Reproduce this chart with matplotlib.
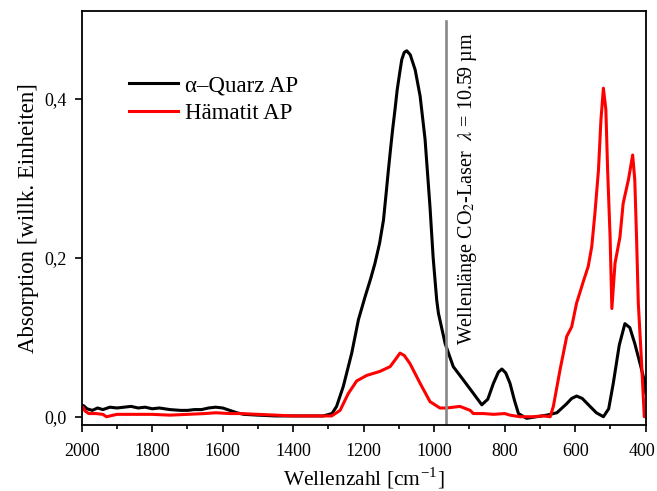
import matplotlib.pyplot as plt
import matplotlib.transforms as mtransforms
from matplotlib.ticker import MultipleLocator, FuncFormatter

plt.rcParams['font.family'] = ['Liberation Serif', 'DejaVu Serif']
plt.rcParams['mathtext.fontset'] = 'stix'

# alpha-quartz spectrum (wavenumber in cm^-1, absorption)
quarz_nu = [2000, 1995, 1985, 1970, 1955, 1940, 1920, 1900, 1880, 1860, 1840, 1820,
            1800, 1780, 1750, 1720, 1700, 1680, 1660, 1640, 1620, 1600, 1580, 1560,
            1540, 1500, 1450, 1400, 1350, 1315, 1290, 1277, 1258, 1234, 1215, 1196,
            1180, 1168, 1155, 1144, 1137, 1130, 1124, 1118, 1111, 1105, 1098, 1092,
            1085, 1078, 1068, 1054, 1040, 1026, 1012, 1003, 993, 988, 969, 946, 917,
            890, 865, 848, 832, 818, 808, 797, 785, 772, 761, 738, 710, 681, 652, 625,
            610, 596, 580, 558, 540, 520, 505, 492, 475, 459, 445, 431, 415, 402, 400]
quarz_abs = [0.012, 0.014, 0.010, 0.008, 0.011, 0.009, 0.012, 0.011, 0.012, 0.013, 0.011, 0.012,
             0.010, 0.011, 0.009, 0.008, 0.008, 0.009, 0.009, 0.011, 0.012, 0.011, 0.008, 0.005,
             0.003, 0.002, 0.001, 0.001, 0.001, 0.001, 0.004, 0.013, 0.038, 0.080, 0.122, 0.151,
             0.174, 0.193, 0.218, 0.247, 0.278, 0.310, 0.336, 0.361, 0.387, 0.411, 0.432, 0.449,
             0.458, 0.460, 0.455, 0.436, 0.403, 0.349, 0.264, 0.200, 0.147, 0.130, 0.092, 0.063, 0.046,
             0.030, 0.015, 0.022, 0.042, 0.056, 0.060, 0.055, 0.042, 0.020, 0.004, -0.002, 0.000, 0.002, 0.005, 0.016,
             0.023, 0.026, 0.023, 0.013, 0.005, 0.000, 0.010, 0.042, 0.090, 0.117, 0.112, 0.092, 0.065, 0.042, 0.030]

# hematite spectrum
haematit_nu = [2000, 1997, 1990, 1980, 1960, 1940, 1930, 1900, 1850, 1800, 1750, 1700,
               1650, 1620, 1580, 1550, 1500, 1450, 1400, 1350, 1291, 1267, 1244, 1220,
               1191, 1154, 1125, 1110, 1097, 1085, 1069, 1040, 1012, 984, 965, 945,
               927, 898, 889, 860, 832, 800, 785, 757, 720, 690, 671, 662, 643, 624,
               610, 596, 586, 577, 563, 553, 544, 534, 527, 520, 513, 508, 501, 496,
               487, 473, 464, 449, 437, 431, 426, 421, 412, 404, 400]
haematit_abs = [0.008, 0.012, 0.007, 0.004, 0.004, 0.003, 0.000, 0.003, 0.003, 0.003, 0.002, 0.003,
                0.004, 0.005, 0.004, 0.004, 0.003, 0.002, 0.001, 0.001, 0.001, 0.008, 0.029, 0.045,
                0.052, 0.057, 0.063, 0.072, 0.080, 0.077, 0.067, 0.042, 0.019, 0.011, 0.011, 0.012,
                0.013, 0.008, 0.004, 0.004, 0.003, 0.004, 0.002, 0.000, 0.000, 0.001, 0.000, 0.013, 0.059, 0.101,
                0.113, 0.143, 0.157, 0.170, 0.189, 0.214, 0.256, 0.310, 0.373, 0.413, 0.386, 0.310, 0.226, 0.136,
                0.193, 0.226, 0.268, 0.298, 0.329, 0.298, 0.226, 0.143, 0.070, 0.000, 0.000]

laser_nu = 967  # CO2 laser line position on the axis

fig = plt.figure(figsize=(6.57, 4.91), dpi=100)
ax = fig.add_axes([0.1244, 0.1344, 0.8584, 0.8432])

ax.plot(quarz_nu, quarz_abs, color='black', lw=2.2, label='α–Quarz AP')
ax.plot(haematit_nu, haematit_abs, color='red', lw=2.2, label='Hämatit AP')
ax.plot([laser_nu, laser_nu], [-0.0104, 0.497], color='#888888', lw=1.9)

ax.text(905, 0.090, r'Wellenlänge CO$_2$-Laser  $\lambda$ = 10.59 µm',
        rotation=90, ha='center', va='bottom', fontsize=14.5)

ax.set_xlim(2000, 400)
ax.set_ylim(-0.0104, 0.51)
ax.xaxis.set_major_locator(MultipleLocator(200))
ax.xaxis.set_minor_locator(MultipleLocator(100))
ax.yaxis.set_major_locator(MultipleLocator(0.2))
ax.yaxis.set_major_formatter(FuncFormatter(lambda v, p: f'{v:.1f}'.replace('.', ',')))
ax.tick_params(which='major', direction='out', length=5, width=1.2, labelsize=13)
ax.tick_params(axis='x', which='major', pad=8)
ax.tick_params(axis='y', which='major', pad=6)
ax.tick_params(which='minor', direction='out', length=3, width=1.2)
for s in ax.spines.values():
    s.set_linewidth(1.3)

ax.set_xlabel('Wellenzahl [cm$^{\\mathregular{-1}}$]', fontsize=15.5, labelpad=4)
ax.set_ylabel('Absorption [willk. Einheiten]', fontsize=16.5, labelpad=4)

ax.legend(loc='upper left', bbox_to_anchor=(0.047, 0.895), frameon=False,
          fontsize=16.5, handlelength=2.15, handletextpad=0.3, labelspacing=0.3)

# nudge the "400" label so it stays inside the right figure edge
fig.canvas.draw()
for lbl in ax.get_xticklabels():
    if lbl.get_text() == '400':
        lbl.set_transform(lbl.get_transform()
                          + mtransforms.ScaledTranslation(-0.04, 0, fig.dpi_scale_trans))

fig.savefig('out.png', dpi=100)
